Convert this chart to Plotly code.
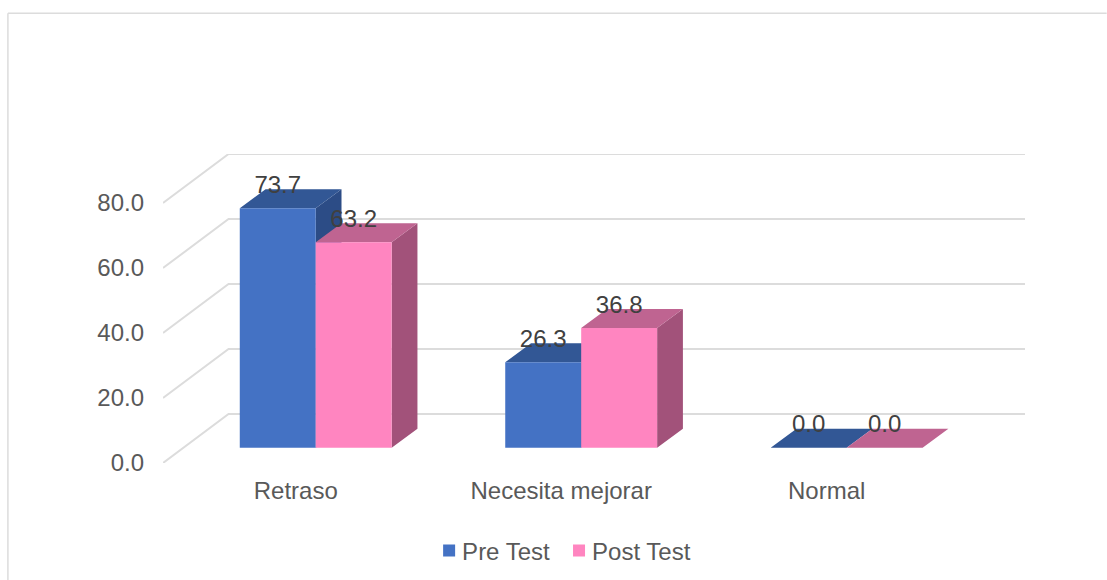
import plotly.graph_objects as go

categories = ["Retraso", "Necesita mejorar", "Normal"]
pre_test = [73.7, 26.3, 0.0]
post_test = [63.2, 36.8, 0.0]
y_ticks = [0, 20, 40, 60, 80]
y_tick_labels = ["0.0", "20.0", "40.0", "60.0", "80.0"]

W, H = 1107, 580
L, R, T, B = 162.7, 1025.3, 154.0, 462.6
PX_X = 265.65          # px per category
PX_Y = 3.245           # px per value unit
y_top = (B - T) / PX_Y
x0, x1 = -0.5, -0.5 + (R - L) / PX_X

WALL_DX, WALL_DY = 65.6 / PX_X, 49.0 / PX_Y
FLOOR_DY = 15.3 / PX_Y
BAR_W = 76.0 / PX_X
GROUP_OFF = 20.0 / PX_X
DEPTH_DX, DEPTH_DY = 25.8 / PX_X, 19.0 / PX_Y
LABEL_DY = 21.5 / PX_Y

FONT = "Liberation Sans, Arial, sans-serif"
GRID = "#DCDCDC"
TXT = "#595959"
LBL = "#404040"

idx = list(range(len(categories)))
pre_x = [i + GROUP_OFF - BAR_W / 2 for i in idx]
post_x = [i + GROUP_OFF + BAR_W / 2 for i in idx]


def top_face(xs, vals):
    px, py = [], []
    for c, v in zip(xs, vals):
        l, r = c - BAR_W / 2, c + BAR_W / 2
        px += [l, r, r + DEPTH_DX, l + DEPTH_DX, l, None]
        py += [v, v, v + DEPTH_DY, v + DEPTH_DY, v, None]
    return px, py


def side_face(xs, vals):
    px, py = [], []
    for c, v in zip(xs, vals):
        r = c + BAR_W / 2
        px += [r, r + DEPTH_DX, r + DEPTH_DX, r, r, None]
        py += [0, DEPTH_DY, v + DEPTH_DY, v, 0, None]
    return px, py


def face(xy, color):
    return go.Scatter(x=xy[0], y=xy[1], mode="lines", fill="toself", fillcolor=color,
                      line=dict(width=0, color=color), yaxis="y2",
                      showlegend=False, hoverinfo="skip")


fig = go.Figure()

# back wall grid and left-wall diagonals
gx, gy = [], []
for v in y_ticks:
    gx += [x0, x0 + WALL_DX, x1, None]
    gy += [v, v + WALL_DY, v + WALL_DY, None]
fig.add_trace(go.Scatter(x=gx, y=gy, mode="lines", line=dict(color=GRID, width=2),
                         showlegend=False, hoverinfo="skip", cliponaxis=False))

# depth faces, back to front
fig.add_trace(face(side_face(pre_x, pre_test), "#2C4C86"))
fig.add_trace(face(top_face(pre_x, pre_test), "#325795"))
fig.add_trace(face(side_face(post_x, post_test), "#A2527A"))
fig.add_trace(face(top_face(post_x, post_test), "#BF6491"))

# front faces
fig.add_trace(go.Bar(x=pre_x, y=pre_test, width=BAR_W, name="Pre Test", yaxis="y3",
                     marker=dict(color="#4472C4", line=dict(width=0)), legend="legend"))
fig.add_trace(go.Bar(x=post_x, y=post_test, width=BAR_W, name="Post Test", yaxis="y3",
                     marker=dict(color="#FF85C0", line=dict(width=0)), legend="legend2"))

# data labels
for xs, vals in ((pre_x, pre_test), (post_x, post_test)):
    fig.add_trace(go.Scatter(x=xs, y=[v + LABEL_DY for v in vals], mode="text",
                             text=[f"{v:.1f}" for v in vals], textposition="middle center",
                             textfont=dict(family=FONT, size=24, color=LBL), yaxis="y3",
                             showlegend=False, hoverinfo="skip", cliponaxis=False))

floor = -FLOOR_DY


def legend_at(px_left):
    return dict(x=(px_left - L) / (R - L), xanchor="left", y=(B - 528) / (B - T), yanchor="top",
                font=dict(family=FONT, size=24, color=TXT), itemwidth=30,
                bgcolor="rgba(0,0,0,0)", borderwidth=0)


fig.update_layout(
    width=W, height=H, autosize=False,
    margin=dict(l=L, r=W - R, t=T, b=H - B, pad=0, autoexpand=False),
    paper_bgcolor="white", plot_bgcolor="white",
    barmode="overlay", showlegend=True,
    font=dict(family=FONT, size=24, color=TXT),
    xaxis=dict(range=[x0, x1], tickvals=idx, ticktext=categories, showgrid=False, zeroline=False,
               showline=False, ticks="", ticklabelstandoff=11, automargin=False,
               tickfont=dict(family=FONT, size=24, color=TXT)),
    yaxis=dict(range=[0, y_top], tickvals=y_ticks, ticktext=y_tick_labels, showgrid=False,
               zeroline=False, showline=False, ticks="", ticklabelstandoff=18, automargin=False,
               tickfont=dict(family=FONT, size=24, color=TXT)),
    yaxis2=dict(range=[floor, floor + y_top], overlaying="y", visible=False),
    yaxis3=dict(range=[floor, floor + y_top], overlaying="y", visible=False),
    legend=legend_at(422),
    legend2=legend_at(552),
    shapes=[
        dict(type="line", xref="paper", yref="paper",
             x0=(7.5 - L) / (R - L), x1=(7.5 - L) / (R - L),
             y0=(B - 13.5) / (B - T), y1=(B - H) / (B - T),
             line=dict(color=GRID, width=1.5)),
        dict(type="line", xref="paper", yref="paper",
             x0=(7.5 - L) / (R - L), x1=(W - L) / (R - L),
             y0=(B - 13.5) / (B - T), y1=(B - 13.5) / (B - T),
             line=dict(color=GRID, width=1.5)),
    ],
)

post = """
document.body.style.margin='0';document.body.style.overflow='hidden';
document.querySelectorAll('.legendpoints').forEach(function(g){g.setAttribute('transform','translate(7,0)');});
"""
fig.write_html("out.html", config=dict(displayModeBar=False), post_script=post)
